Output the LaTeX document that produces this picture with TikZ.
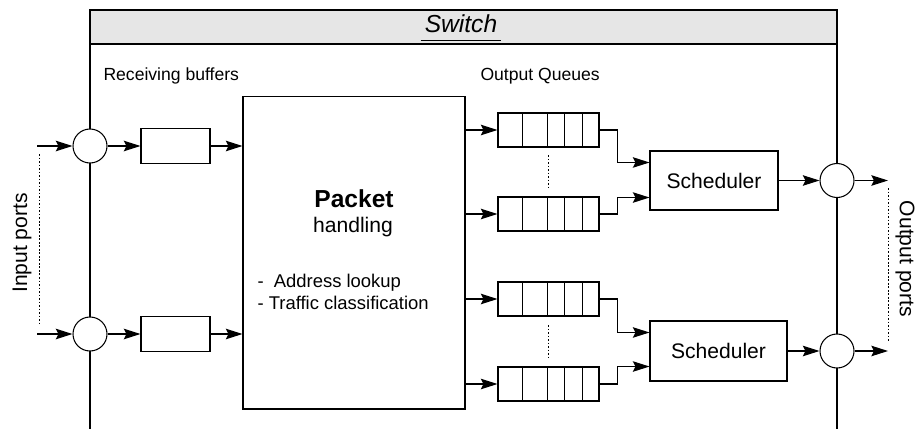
\documentclass[tikz,border=0pt]{standalone}
\usepackage{fontspec}
\setmainfont{Liberation Sans}
\usetikzlibrary{arrows.meta,calc}
\definecolor{entete}{RGB}{230,230,230}
\begin{document}
\begin{tikzpicture}[x=0.02cm,y=-0.02cm,line width=0.6pt]
\tikzset{portn/.style={draw, circle, fill=white, minimum size=0.68cm, inner sep=0pt},
  tampon/.style={draw, minimum width=1.38cm, minimum height=0.7cm, inner sep=0pt},
  filen/.style={draw, minimum width=2.02cm, minimum height=0.68cm, inner sep=0pt},
  sched/.style={draw, inner sep=0pt, font=\fontsize{12}{14}\selectfont},
  fl/.style={-{Stealth[length=9.5pt,width=6pt,inset=1.5pt]}},
  pointille/.style={line width=0.5pt, dash pattern=on 1pt off 1pt},
  lbl/.style={font=\fontsize{10}{12}\selectfont, inner sep=0pt}}
\useasboundingbox (0,0) rectangle (915,429);
\draw[fill=entete] (90,10) rectangle (837,44);
\draw (90,44) -- (90,429);
\draw (837,44) -- (837,429);
\node[font=\fontsize{14}{16}\selectfont\itshape, anchor=base, inner sep=0pt] (titre) at (461,33) {\underline{\,Switch\,\vphantom{p}}};
\node[lbl, anchor=base west] (recep) at (103,81) {Receiving buffers};
\node[lbl, anchor=base west] (sortie) at (480,81) {Output Queues};
\coordinate (e1) at (37,146);
\coordinate (e2) at (37,334);
\node[portn] (c1) at (90,146) {};
\node[portn] (c2) at (90,334) {};
\node[tampon] (b1) at (175.5,146) {};
\node[tampon] (b2) at (175.5,334) {};
\node[draw, minimum width=4.44cm, minimum height=6.26cm] (pk) at (354,252.5) {};
\node[anchor=base, inner sep=0pt, font=\fontsize{14}{16}\selectfont\bfseries] (pk1) at (354,207) {Packet};
\node[anchor=base, inner sep=0pt, font=\fontsize{12}{14}\selectfont] (pk2) at (353,232) {handling};
\node[lbl, anchor=base west, font=\fontsize{10.5}{12}\selectfont] (pk3) at (257,287) {-\hspace{0.55em}Address lookup};
\node[lbl, anchor=base west, font=\fontsize{10.5}{12}\selectfont] (pk4) at (257,309) {- Traffic classification};
\node[filen] (q1) at (548.5,130) {};
\node[filen] (q2) at (548.5,214) {};
\node[filen] (q3) at (548.5,299) {};
\node[filen] (q4) at (548.5,384) {};
\foreach \q in {q1,q2,q3,q4}
  \foreach \d in {25,50,67,85}
    \draw ($(\q.north west)+(\d,0)$) -- ($(\q.south west)+(\d,0)$);
\node[sched, minimum width=2.56cm, minimum height=1.18cm] (s1) at (714,180.5) {Scheduler};
\node[sched, minimum width=2.74cm, minimum height=1.2cm] (s2) at (718.5,351) {Scheduler};
\node[portn] (o1) at (837,180.5) {};
\node[portn] (o2) at (837,351) {};
\coordinate (f1) at (888,180.5);
\coordinate (f2) at (888,351);
\node[rotate=90, inner sep=0pt, font=\fontsize{12}{14}\selectfont] (entree) at (22,243) {Input ports};
\node[rotate=-90, inner sep=0pt, font=\fontsize{12}{14}\selectfont] (sortp) at (905,259) {Output ports};
\draw[pointille] (39,154) -- (39,325);
\draw[pointille] (888,188) -- (888,342);
\draw[pointille] (548,155) -- (548,188);
\draw[pointille] (548,325) -- (548,358);
\draw[fl] (e1) -- (c1);
\draw[fl] (e2) -- (c2);
\draw[fl] (c1) -- (b1);
\draw[fl] (c2) -- (b2);
\draw[fl] (b1) -- (b1 -| pk.west);
\draw[fl] (b2) -- (b2 -| pk.west);
\draw[fl] (pk.east |- q1) -- (q1);
\draw[fl] (pk.east |- q2) -- (q2);
\draw[fl] (pk.east |- q3) -- (q3);
\draw[fl] (pk.east |- q4) -- (q4);
\draw[fl] (q1.east) -- ++(18,0) |- ($(s1.north west)+(0,12)$);
\draw[fl] (q2.east) -- ++(18,0) |- ($(s1.south west)+(0,-13)$);
\draw[fl] (q3.east) -- ++(18,0) |- ($(s2.north west)+(0,12)$);
\draw[fl] (q4.east) -- ++(18,0) |- ($(s2.south west)+(0,-15)$);
\draw[fl] (s1) -- (o1);
\draw[fl] (s2) -- (o2);
\draw[fl] (o1) -- (f1);
\draw[fl] (o2) -- (f2);
\end{tikzpicture}
\end{document}
